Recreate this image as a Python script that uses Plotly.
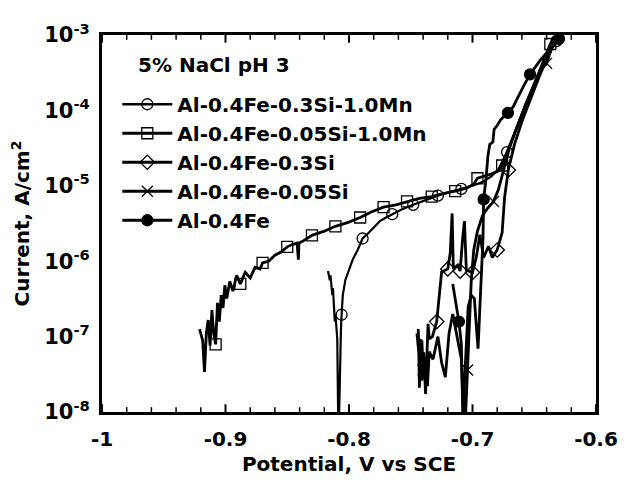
import math
import plotly.graph_objects as go

# ---------------- data ----------------
# Al-0.4Fe-0.3Si-1.0Mn  (open circles)
potential_1 = [-0.817, -0.8155, -0.815, -0.8135, -0.813, -0.8115, -0.811, -0.8095, -0.8085,
               -0.8075, -0.8065, -0.806, -0.805, -0.803, -0.800, -0.797, -0.793, -0.789,
               -0.785, -0.780, -0.775, -0.770, -0.765, -0.757, -0.748, -0.738, -0.728,
               -0.718, -0.709, -0.700, -0.692, -0.685, -0.679, -0.675, -0.672, -0.668,
               -0.663, -0.657, -0.650, -0.643, -0.637, -0.632]
current_1 = [7.4e-7, 5.6e-7, 6.5e-7, 3.55e-7, 4.4e-7, 1.58e-7, 2.0e-7, 9.3e-8, 4e-9,
             3.2e-8, 1.26e-7, 1.95e-7, 3.55e-7, 5.6e-7, 7.9e-7, 1.05e-6, 1.41e-6, 2.0e-6,
             2.3e-6, 2.8e-6, 3.4e-6, 3.8e-6, 4.2e-6, 4.9e-6, 5.6e-6, 6.5e-6, 7.4e-6,
             8.3e-6, 9.1e-6, 1.0e-5, 1.12e-5, 1.32e-5, 1.66e-5, 2.2e-5, 2.8e-5, 4.0e-5,
             6.6e-5, 1.2e-4, 2.24e-4, 4.0e-4, 6.3e-4, 8.3e-4]
marked_1 = [-0.806, -0.789, -0.765, -0.748, -0.728, -0.709, -0.672, -0.632]

# Al-0.4Fe-0.05Si-1.0Mn  (open squares)
potential_2 = [-0.921, -0.9185, -0.917, -0.9155, -0.914, -0.9125, -0.911, -0.9095, -0.908,
               -0.9065, -0.905, -0.9035, -0.902, -0.9005, -0.899, -0.8965, -0.894, -0.891,
               -0.888, -0.884, -0.880, -0.876, -0.872, -0.870, -0.865, -0.860, -0.855,
               -0.850, -0.846, -0.842, -0.841, -0.8405, -0.838, -0.834, -0.830, -0.820,
               -0.811, -0.800, -0.791, -0.782, -0.772, -0.762, -0.753, -0.743, -0.733,
               -0.724, -0.714, -0.705, -0.699, -0.696, -0.690, -0.684, -0.679, -0.676,
               -0.672, -0.667, -0.661, -0.655, -0.649, -0.643, -0.637, -0.633]
current_2 = [1.26e-7, 8.9e-8, 3.4e-8, 1.12e-7, 1.66e-7, 7.6e-8, 2.24e-7, 1.1e-7, 7.9e-8,
             2.8e-7, 1.58e-7, 3.55e-7, 2.4e-7, 4.8e-7, 3.2e-7, 5.4e-7, 4.0e-7, 6.5e-7,
             5.0e-7, 7.1e-7, 6.0e-7, 8.3e-7, 7.9e-7, 9.5e-7, 1.0e-6, 1.2e-6, 1.32e-6,
             1.55e-6, 1.66e-6, 1.74e-6, 1.05e-6, 1.74e-6, 1.82e-6, 2.0e-6, 2.2e-6, 2.5e-6,
             2.9e-6, 3.3e-6, 3.8e-6, 4.5e-6, 5.2e-6, 5.6e-6, 6.2e-6, 6.8e-6, 7.2e-6,
             7.9e-6, 8.5e-6, 9.3e-6, 1.05e-5, 1.26e-5, 1.35e-5, 1.45e-5, 1.58e-5, 1.86e-5,
             2.8e-5, 4.5e-5, 7.9e-5, 1.41e-4, 2.5e-4, 4.2e-4, 7.6e-4, 9.5e-4]
marked_2 = [-0.908, -0.888, -0.870, -0.850, -0.830, -0.811, -0.791, -0.772, -0.753,
            -0.733, -0.714, -0.696, -0.676, -0.637]

# Al-0.4Fe-0.3Si  (open diamonds)
potential_3 = [-0.745, -0.7435, -0.743, -0.742, -0.741, -0.7395, -0.738, -0.736, -0.735,
               -0.7325, -0.729, -0.727, -0.725, -0.720, -0.718, -0.7165, -0.7155, -0.712,
               -0.710, -0.708, -0.7065, -0.705, -0.700, -0.697, -0.694, -0.691, -0.687,
               -0.684, -0.680, -0.676, -0.674, -0.671, -0.666, -0.660, -0.653, -0.646,
               -0.639, -0.633]
current_3 = [1.1e-7, 6.2e-8, 2.1e-8, 9.3e-8, 2.6e-8, 6.2e-8, 1.74e-8, 1.48e-7, 9.3e-8,
             1.0e-7, 1.58e-7, 3.2e-7, 7.2e-7, 7.9e-7, 1.29e-6, 4.3e-6, 7.9e-7, 8.9e-7,
             7.4e-7, 2.0e-6, 3.4e-6, 7.6e-7, 7.1e-7, 1.12e-6, 2.24e-6, 1.12e-6, 1.58e-6,
             1.12e-6, 1.41e-6, 2.4e-6, 7.1e-6, 1.62e-5, 3.55e-5, 7.1e-5, 1.41e-4, 2.8e-4,
             5.2e-4, 8.3e-4]
marked_3 = [-0.729, -0.720, -0.710, -0.700, -0.680, -0.671]

# Al-0.4Fe-0.05Si  (crosses)
potential_4 = [-0.744, -0.7425, -0.741, -0.740, -0.738, -0.7365, -0.735, -0.732, -0.728,
               -0.725, -0.722, -0.719, -0.716, -0.713, -0.709, -0.7065, -0.704, -0.7025,
               -0.701, -0.699, -0.696, -0.692, -0.688, -0.683, -0.679, -0.675, -0.670,
               -0.664, -0.657, -0.650, -0.644, -0.640, -0.636, -0.632]
current_4 = [1.26e-7, 4.0e-8, 8.9e-8, 3.6e-8, 4.5e-8, 2.2e-8, 6.3e-8, 5.0e-8, 1.0e-7,
             4.5e-8, 2.9e-8, 1.1e-7, 2.0e-7, 1.12e-7, 5.0e-8, 4e-9, 3.6e-8, 1.26e-7,
             5.6e-7, 1.41e-6, 2.5e-6, 4.0e-6, 5.0e-6, 6.2e-6, 8.9e-6, 1.58e-5, 3.2e-5,
             6.0e-5, 1.2e-4, 2.24e-4, 3.55e-4, 4.2e-4, 6.6e-4, 8.9e-4]
marked_4 = [-0.740, -0.704, -0.683, -0.640]

# Al-0.4Fe  (filled circles)
potential_5 = [-0.716, -0.714, -0.7125, -0.711, -0.709, -0.7075, -0.7065, -0.705, -0.7035,
               -0.701, -0.6985, -0.6965, -0.6955, -0.694, -0.6925, -0.6915, -0.691, -0.689,
               -0.6875, -0.686, -0.6835, -0.6825, -0.680, -0.677, -0.6713, -0.667, -0.664,
               -0.661, -0.658, -0.6534, -0.6453, -0.6348, -0.630]
current_5 = [5.0e-7, 3.2e-7, 2.0e-7, 1.58e-7, 7.9e-8, 4e-9, 2.5e-8, 7.9e-8, 2.5e-7,
             3.55e-7, 3.2e-7, 1.12e-7, 6.9e-8, 2.5e-7, 8.9e-7, 2.0e-6, 6.6e-6, 1.26e-5,
             2.5e-5, 3.55e-5, 3.8e-5, 5.6e-5, 6.3e-5, 7.6e-5, 9.3e-5, 1.12e-4, 1.41e-4,
             1.78e-4, 2.2e-4, 3.0e-4, 4.6e-4, 7.2e-4, 8.9e-4]
marked_5 = [-0.711, -0.691, -0.6713, -0.6534, -0.630]

series_names = ["Al-0.4Fe-0.3Si-1.0Mn", "Al-0.4Fe-0.05Si-1.0Mn", "Al-0.4Fe-0.3Si",
                "Al-0.4Fe-0.05Si", "Al-0.4Fe"]
x_tick_values = [-1, -0.9, -0.8, -0.7, -0.6]
x_tick_labels = ["<b>-1</b>", "<b>-0.9</b>", "<b>-0.8</b>", "<b>-0.7</b>", "<b>-0.6</b>"]
x_minor_ticks = [-0.98, -0.96, -0.94, -0.92, -0.88, -0.86, -0.84, -0.82, -0.78, -0.76,
                 -0.74, -0.72, -0.68, -0.66, -0.64, -0.62]
y_tick_values = [1e-8, 1e-7, 1e-6, 1e-5, 1e-4, 1e-3]
y_tick_labels = ["<b>10<sup>-8</sup></b>", "<b>10<sup>-7</sup></b>", "<b>10<sup>-6</sup></b>",
                 "<b>10<sup>-5</sup></b>", "<b>10<sup>-4</sup></b>", "<b>10<sup>-3</sup></b>"]
y_minor_ticks = [m * d for d in [1e-8, 1e-7, 1e-6, 1e-5, 1e-4] for m in range(2, 10)]
note_text = "<b>5% NaCl pH 3</b>"

# ---------------- styling ----------------
FONT = "DejaVu Sans"
symbols = ["circle-open", "square-open", "diamond-open", "x-thin-open", "circle"]
line_widths = [2.2, 2.8, 2.8, 2.8, 2.8]

data = [(potential_1, current_1, marked_1), (potential_2, current_2, marked_2),
        (potential_3, current_3, marked_3), (potential_4, current_4, marked_4),
        (potential_5, current_5, marked_5)]

fig = go.Figure()
for k, ((pv, cv, mk), name) in enumerate(zip(data, series_names)):
    mstyle = dict(symbol=symbols[k], size=11, color="black",
                  line=dict(color="black", width=1.3))
    fig.add_trace(go.Scatter(x=pv, y=cv, mode="lines",
                             line=dict(color="black", width=line_widths[k]),
                             showlegend=False))
    idx = [pv.index(m) for m in mk]
    fig.add_trace(go.Scatter(x=[pv[i] for i in idx], y=[cv[i] for i in idx],
                             mode="markers", marker=mstyle, showlegend=False))
    # legend entry only (point kept outside the visible range)
    fig.add_trace(go.Scatter(x=[-2], y=[1e-12], mode="lines+markers",
                             name="<b>" + name + "</b>",
                             line=dict(color="black", width=line_widths[k] + 0.3),
                             marker=mstyle))

# tick marks drawn inside on all four sides (as shapes at the tick values)
MAJ_X, MIN_X = 8 / 393, 5 / 393     # tick lengths as fraction of plot height
MAJ_Y, MIN_Y = 9 / 494, 5 / 494     # tick lengths as fraction of plot width
tick_shapes = []
for vals, ln, w in [(x_tick_values, MAJ_X, 2), (x_minor_ticks, MIN_X, 1.5)]:
    for v in vals:
        tick_shapes.append(dict(type="line", xref="x", yref="paper", x0=v, x1=v,
                                y0=0, y1=ln, line=dict(color="black", width=w)))
        tick_shapes.append(dict(type="line", xref="x", yref="paper", x0=v, x1=v,
                                y0=1, y1=1 - ln, line=dict(color="black", width=w)))
for vals, ln, w in [(y_tick_values, MAJ_Y, 2), (y_minor_ticks, MIN_Y, 1.5)]:
    for v in vals:
        lv = math.log10(v)
        tick_shapes.append(dict(type="line", xref="paper", yref="y", x0=0, x1=ln,
                                y0=lv, y1=lv, line=dict(color="black", width=w)))
        tick_shapes.append(dict(type="line", xref="paper", yref="y", x0=1, x1=1 - ln,
                                y0=lv, y1=lv, line=dict(color="black", width=w)))

fig.update_xaxes(range=[-1, -0.6], tickmode="array", tickvals=x_tick_values,
                 ticktext=x_tick_labels, ticks="", ticklabelstandoff=7,
                 showline=True, linecolor="black", linewidth=3, mirror=True,
                 showgrid=False, zeroline=False,
                 tickfont=dict(family=FONT, size=20, color="black"),
                 title=dict(text="<b>Potential, V vs SCE</b>", standoff=7,
                            font=dict(family=FONT, size=20, color="black")))
fig.update_yaxes(type="log", range=[-8, -3], tickmode="array", tickvals=y_tick_values,
                 ticktext=y_tick_labels, ticks="", ticklabelstandoff=5,
                 showline=True, linecolor="black", linewidth=3, mirror=True,
                 showgrid=False, zeroline=False,
                 tickfont=dict(family=FONT, size=21, color="black"),
                 title=dict(text="<b>Current, A/cm<sup>2</sup></b>", standoff=10,
                            font=dict(family=FONT, size=20, color="black")))

fig.add_annotation(text=note_text, xref="paper", yref="paper", x=0.068, y=0.921,
                   xanchor="left", yanchor="middle", showarrow=False,
                   font=dict(family=FONT, size=20, color="black"))

fig.update_layout(width=624, height=476, margin=dict(l=94, r=36, t=18, b=65),
                  paper_bgcolor="white", plot_bgcolor="white", shapes=tick_shapes,
                  legend=dict(x=0.031, y=0.868, xanchor="left", yanchor="top",
                              bgcolor="rgba(0,0,0,0)", itemwidth=50,
                              font=dict(family=FONT, size=20, color="black"),
                              tracegroupgap=0))

fig.write_html("out.html")
